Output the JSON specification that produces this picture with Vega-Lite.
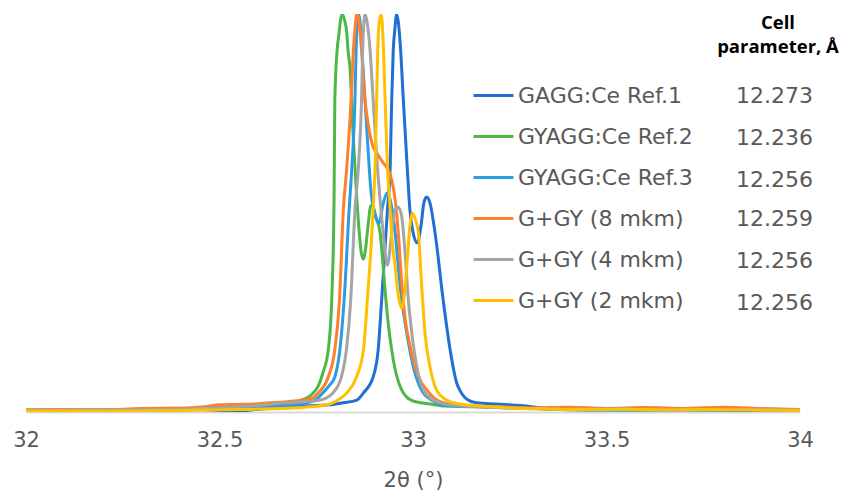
{
  "$schema": "https://vega.github.io/schema/vega-lite/v6.json",
  "width": 774,
  "height": 398,
  "autosize": {"type": "none"},
  "padding": {"left": 26, "top": 14, "right": 46, "bottom": 86},
  "background": "white",
  "config": {"view": {"stroke": null}, "font": "DejaVu Sans"},
  "title": {
    "text": ["Cell", "parameter, Å"],
    "anchor": "end",
    "frame": "group",
    "orient": "top",
    "align": "center",
    "baseline": "alphabetic",
    "offset": 0,
    "dx": -22,
    "dy": 57,
    "fontSize": 18.5,
    "fontWeight": "bold",
    "color": "#000000",
    "font": "Open Sans",
    "lineHeight": 24
  },
  "datasets": {
    "params": [
      {"pkey": "1|12.273", "param": 12.273},
      {"pkey": "2|12.236", "param": 12.236},
      {"pkey": "3|12.256", "param": 12.256},
      {"pkey": "4|12.259", "param": 12.259},
      {"pkey": "5|12.256", "param": 12.256},
      {"pkey": "6|12.256", "param": 12.256}
    ],
    "scans": [
      {"s":"GAGG:Ce Ref.1","x":32.000,"y":0.4},{"s":"GAGG:Ce Ref.1","x":32.100,"y":0.5},{"s":"GAGG:Ce Ref.1","x":32.191,"y":0.4},{"s":"GAGG:Ce Ref.1","x":32.300,"y":0.6},{"s":"GAGG:Ce Ref.1","x":32.400,"y":0.5},{"s":"GAGG:Ce Ref.1","x":32.450,"y":0.6},{"s":"GAGG:Ce Ref.1","x":32.500,"y":0.4},{"s":"GAGG:Ce Ref.1","x":32.545,"y":0.1},{"s":"GAGG:Ce Ref.1","x":32.580,"y":0.5},{"s":"GAGG:Ce Ref.1","x":32.605,"y":0.7},{"s":"GAGG:Ce Ref.1","x":32.650,"y":1.2},{"s":"GAGG:Ce Ref.1","x":32.708,"y":1.5},{"s":"GAGG:Ce Ref.1","x":32.785,"y":1.8},{"s":"GAGG:Ce Ref.1","x":32.819,"y":2.3},{"s":"GAGG:Ce Ref.1","x":32.855,"y":3.0},{"s":"GAGG:Ce Ref.1","x":32.872,"y":4.8},{"s":"GAGG:Ce Ref.1","x":32.897,"y":8.8},{"s":"GAGG:Ce Ref.1","x":32.910,"y":15.6},{"s":"GAGG:Ce Ref.1","x":32.919,"y":28.1},{"s":"GAGG:Ce Ref.1","x":32.934,"y":50.8},{"s":"GAGG:Ce Ref.1","x":32.941,"y":61.6},{"s":"GAGG:Ce Ref.1","x":32.945,"y":78.4},{"s":"GAGG:Ce Ref.1","x":32.949,"y":91.0},{"s":"GAGG:Ce Ref.1","x":32.953,"y":96.0},{"s":"GAGG:Ce Ref.1","x":32.958,"y":100},{"s":"GAGG:Ce Ref.1","x":32.963,"y":97.2},{"s":"GAGG:Ce Ref.1","x":32.968,"y":91.0},{"s":"GAGG:Ce Ref.1","x":32.975,"y":78.4},{"s":"GAGG:Ce Ref.1","x":32.985,"y":61.6},{"s":"GAGG:Ce Ref.1","x":32.992,"y":50.8},{"s":"GAGG:Ce Ref.1","x":33.000,"y":45.2},{"s":"GAGG:Ce Ref.1","x":33.011,"y":42.5},{"s":"GAGG:Ce Ref.1","x":33.021,"y":47.0},{"s":"GAGG:Ce Ref.1","x":33.028,"y":52.5},{"s":"GAGG:Ce Ref.1","x":33.035,"y":54.0},{"s":"GAGG:Ce Ref.1","x":33.044,"y":52.5},{"s":"GAGG:Ce Ref.1","x":33.057,"y":45.0},{"s":"GAGG:Ce Ref.1","x":33.078,"y":28.1},{"s":"GAGG:Ce Ref.1","x":33.096,"y":15.6},{"s":"GAGG:Ce Ref.1","x":33.113,"y":7.3},{"s":"GAGG:Ce Ref.1","x":33.121,"y":5.5},{"s":"GAGG:Ce Ref.1","x":33.142,"y":3.0},{"s":"GAGG:Ce Ref.1","x":33.165,"y":2.3},{"s":"GAGG:Ce Ref.1","x":33.215,"y":2.0},{"s":"GAGG:Ce Ref.1","x":33.302,"y":1.4},{"s":"GAGG:Ce Ref.1","x":33.354,"y":0.75},{"s":"GAGG:Ce Ref.1","x":33.450,"y":0.5},{"s":"GAGG:Ce Ref.1","x":33.550,"y":0.6},{"s":"GAGG:Ce Ref.1","x":33.650,"y":0.5},{"s":"GAGG:Ce Ref.1","x":33.750,"y":0.6},{"s":"GAGG:Ce Ref.1","x":33.850,"y":0.4},{"s":"GAGG:Ce Ref.1","x":33.950,"y":0.5},{"s":"GAGG:Ce Ref.1","x":34.000,"y":0.3},
      {"s":"GYAGG:Ce Ref.2","x":32.000,"y":0.5},{"s":"GYAGG:Ce Ref.2","x":32.100,"y":0.4},{"s":"GYAGG:Ce Ref.2","x":32.191,"y":0.5},{"s":"GYAGG:Ce Ref.2","x":32.320,"y":0.6},{"s":"GYAGG:Ce Ref.2","x":32.450,"y":0.9},{"s":"GYAGG:Ce Ref.2","x":32.500,"y":1.1},{"s":"GYAGG:Ce Ref.2","x":32.555,"y":1.3},{"s":"GYAGG:Ce Ref.2","x":32.630,"y":1.5},{"s":"GYAGG:Ce Ref.2","x":32.674,"y":2.0},{"s":"GYAGG:Ce Ref.2","x":32.708,"y":2.8},{"s":"GYAGG:Ce Ref.2","x":32.742,"y":4.8},{"s":"GYAGG:Ce Ref.2","x":32.755,"y":6.5},{"s":"GYAGG:Ce Ref.2","x":32.767,"y":9.8},{"s":"GYAGG:Ce Ref.2","x":32.781,"y":15.6},{"s":"GYAGG:Ce Ref.2","x":32.790,"y":28.1},{"s":"GYAGG:Ce Ref.2","x":32.796,"y":53.3},{"s":"GYAGG:Ce Ref.2","x":32.798,"y":78.4},{"s":"GYAGG:Ce Ref.2","x":32.804,"y":91.0},{"s":"GYAGG:Ce Ref.2","x":32.809,"y":95.2},{"s":"GYAGG:Ce Ref.2","x":32.812,"y":98.0},{"s":"GYAGG:Ce Ref.2","x":32.817,"y":100},{"s":"GYAGG:Ce Ref.2","x":32.823,"y":98.5},{"s":"GYAGG:Ce Ref.2","x":32.829,"y":95.2},{"s":"GYAGG:Ce Ref.2","x":32.832,"y":91.0},{"s":"GYAGG:Ce Ref.2","x":32.837,"y":86.7},{"s":"GYAGG:Ce Ref.2","x":32.845,"y":70.1},{"s":"GYAGG:Ce Ref.2","x":32.855,"y":53.3},{"s":"GYAGG:Ce Ref.2","x":32.861,"y":45.2},{"s":"GYAGG:Ce Ref.2","x":32.866,"y":40.2},{"s":"GYAGG:Ce Ref.2","x":32.872,"y":38.4},{"s":"GYAGG:Ce Ref.2","x":32.877,"y":40.7},{"s":"GYAGG:Ce Ref.2","x":32.884,"y":47.0},{"s":"GYAGG:Ce Ref.2","x":32.891,"y":51.8},{"s":"GYAGG:Ce Ref.2","x":32.897,"y":51.5},{"s":"GYAGG:Ce Ref.2","x":32.905,"y":48.7},{"s":"GYAGG:Ce Ref.2","x":32.915,"y":45.0},{"s":"GYAGG:Ce Ref.2","x":32.922,"y":37.7},{"s":"GYAGG:Ce Ref.2","x":32.930,"y":28.1},{"s":"GYAGG:Ce Ref.2","x":32.938,"y":20.6},{"s":"GYAGG:Ce Ref.2","x":32.945,"y":15.6},{"s":"GYAGG:Ce Ref.2","x":32.953,"y":11.1},{"s":"GYAGG:Ce Ref.2","x":32.961,"y":8.0},{"s":"GYAGG:Ce Ref.2","x":32.971,"y":5.5},{"s":"GYAGG:Ce Ref.2","x":32.983,"y":3.8},{"s":"GYAGG:Ce Ref.2","x":32.995,"y":3.0},{"s":"GYAGG:Ce Ref.2","x":33.010,"y":2.5},{"s":"GYAGG:Ce Ref.2","x":33.044,"y":2.0},{"s":"GYAGG:Ce Ref.2","x":33.083,"y":1.5},{"s":"GYAGG:Ce Ref.2","x":33.121,"y":1.4},{"s":"GYAGG:Ce Ref.2","x":33.173,"y":1.3},{"s":"GYAGG:Ce Ref.2","x":33.270,"y":1.0},{"s":"GYAGG:Ce Ref.2","x":33.370,"y":0.75},{"s":"GYAGG:Ce Ref.2","x":33.470,"y":0.6},{"s":"GYAGG:Ce Ref.2","x":33.570,"y":0.5},{"s":"GYAGG:Ce Ref.2","x":33.670,"y":0.6},{"s":"GYAGG:Ce Ref.2","x":33.770,"y":0.5},{"s":"GYAGG:Ce Ref.2","x":33.870,"y":0.6},{"s":"GYAGG:Ce Ref.2","x":34.000,"y":0.4},
      {"s":"GYAGG:Ce Ref.3","x":32.000,"y":0.4},{"s":"GYAGG:Ce Ref.3","x":32.191,"y":0.5},{"s":"GYAGG:Ce Ref.3","x":32.320,"y":0.6},{"s":"GYAGG:Ce Ref.3","x":32.450,"y":0.75},{"s":"GYAGG:Ce Ref.3","x":32.579,"y":1.1},{"s":"GYAGG:Ce Ref.3","x":32.656,"y":1.5},{"s":"GYAGG:Ce Ref.3","x":32.708,"y":2.0},{"s":"GYAGG:Ce Ref.3","x":32.734,"y":2.5},{"s":"GYAGG:Ce Ref.3","x":32.747,"y":3.0},{"s":"GYAGG:Ce Ref.3","x":32.767,"y":4.8},{"s":"GYAGG:Ce Ref.3","x":32.785,"y":6.8},{"s":"GYAGG:Ce Ref.3","x":32.798,"y":8.8},{"s":"GYAGG:Ce Ref.3","x":32.811,"y":15.6},{"s":"GYAGG:Ce Ref.3","x":32.822,"y":28.1},{"s":"GYAGG:Ce Ref.3","x":32.835,"y":50.8},{"s":"GYAGG:Ce Ref.3","x":32.842,"y":61.6},{"s":"GYAGG:Ce Ref.3","x":32.850,"y":78.4},{"s":"GYAGG:Ce Ref.3","x":32.853,"y":91.0},{"s":"GYAGG:Ce Ref.3","x":32.855,"y":96.0},{"s":"GYAGG:Ce Ref.3","x":32.859,"y":100},{"s":"GYAGG:Ce Ref.3","x":32.863,"y":98.2},{"s":"GYAGG:Ce Ref.3","x":32.868,"y":91.0},{"s":"GYAGG:Ce Ref.3","x":32.876,"y":78.4},{"s":"GYAGG:Ce Ref.3","x":32.884,"y":65.8},{"s":"GYAGG:Ce Ref.3","x":32.891,"y":55.8},{"s":"GYAGG:Ce Ref.3","x":32.902,"y":49.5},{"s":"GYAGG:Ce Ref.3","x":32.912,"y":47.5},{"s":"GYAGG:Ce Ref.3","x":32.922,"y":52.0},{"s":"GYAGG:Ce Ref.3","x":32.934,"y":55.0},{"s":"GYAGG:Ce Ref.3","x":32.945,"y":51.5},{"s":"GYAGG:Ce Ref.3","x":32.954,"y":45.0},{"s":"GYAGG:Ce Ref.3","x":32.962,"y":36.4},{"s":"GYAGG:Ce Ref.3","x":32.971,"y":28.1},{"s":"GYAGG:Ce Ref.3","x":32.984,"y":19.8},{"s":"GYAGG:Ce Ref.3","x":33.001,"y":11.3},{"s":"GYAGG:Ce Ref.3","x":33.022,"y":5.5},{"s":"GYAGG:Ce Ref.3","x":33.048,"y":3.0},{"s":"GYAGG:Ce Ref.3","x":33.070,"y":2.0},{"s":"GYAGG:Ce Ref.3","x":33.109,"y":1.5},{"s":"GYAGG:Ce Ref.3","x":33.173,"y":1.3},{"s":"GYAGG:Ce Ref.3","x":33.250,"y":1.0},{"s":"GYAGG:Ce Ref.3","x":33.350,"y":0.75},{"s":"GYAGG:Ce Ref.3","x":33.450,"y":0.6},{"s":"GYAGG:Ce Ref.3","x":33.550,"y":0.5},{"s":"GYAGG:Ce Ref.3","x":33.650,"y":0.6},{"s":"GYAGG:Ce Ref.3","x":33.750,"y":0.5},{"s":"GYAGG:Ce Ref.3","x":33.850,"y":0.6},{"s":"GYAGG:Ce Ref.3","x":34.000,"y":0.5},
      {"s":"G+GY (8 mkm)","x":32.000,"y":0.5},{"s":"G+GY (8 mkm)","x":32.100,"y":0.6},{"s":"G+GY (8 mkm)","x":32.191,"y":0.5},{"s":"G+GY (8 mkm)","x":32.300,"y":0.9},{"s":"G+GY (8 mkm)","x":32.416,"y":1.0},{"s":"G+GY (8 mkm)","x":32.460,"y":1.3},{"s":"G+GY (8 mkm)","x":32.501,"y":1.8},{"s":"G+GY (8 mkm)","x":32.545,"y":1.9},{"s":"G+GY (8 mkm)","x":32.587,"y":2.0},{"s":"G+GY (8 mkm)","x":32.630,"y":2.3},{"s":"G+GY (8 mkm)","x":32.674,"y":2.6},{"s":"G+GY (8 mkm)","x":32.715,"y":3.0},{"s":"G+GY (8 mkm)","x":32.740,"y":3.5},{"s":"G+GY (8 mkm)","x":32.755,"y":4.8},{"s":"G+GY (8 mkm)","x":32.781,"y":8.8},{"s":"G+GY (8 mkm)","x":32.798,"y":15.6},{"s":"G+GY (8 mkm)","x":32.810,"y":28.1},{"s":"G+GY (8 mkm)","x":32.820,"y":50.8},{"s":"G+GY (8 mkm)","x":32.829,"y":61.6},{"s":"G+GY (8 mkm)","x":32.840,"y":78.4},{"s":"G+GY (8 mkm)","x":32.846,"y":91.0},{"s":"G+GY (8 mkm)","x":32.850,"y":96.0},{"s":"G+GY (8 mkm)","x":32.855,"y":100},{"s":"G+GY (8 mkm)","x":32.860,"y":98.5},{"s":"G+GY (8 mkm)","x":32.867,"y":91.0},{"s":"G+GY (8 mkm)","x":32.876,"y":78.4},{"s":"G+GY (8 mkm)","x":32.884,"y":72.4},{"s":"G+GY (8 mkm)","x":32.889,"y":69.6},{"s":"G+GY (8 mkm)","x":32.897,"y":66.6},{"s":"G+GY (8 mkm)","x":32.906,"y":65.1},{"s":"G+GY (8 mkm)","x":32.923,"y":62.6},{"s":"G+GY (8 mkm)","x":32.936,"y":60.8},{"s":"G+GY (8 mkm)","x":32.945,"y":58.3},{"s":"G+GY (8 mkm)","x":32.954,"y":53.3},{"s":"G+GY (8 mkm)","x":32.962,"y":45.0},{"s":"G+GY (8 mkm)","x":32.971,"y":32.4},{"s":"G+GY (8 mkm)","x":32.979,"y":23.9},{"s":"G+GY (8 mkm)","x":32.992,"y":16.8},{"s":"G+GY (8 mkm)","x":33.005,"y":11.3},{"s":"G+GY (8 mkm)","x":33.021,"y":7.5},{"s":"G+GY (8 mkm)","x":33.036,"y":5.5},{"s":"G+GY (8 mkm)","x":33.062,"y":3.0},{"s":"G+GY (8 mkm)","x":33.096,"y":2.0},{"s":"G+GY (8 mkm)","x":33.147,"y":1.5},{"s":"G+GY (8 mkm)","x":33.225,"y":1.3},{"s":"G+GY (8 mkm)","x":33.300,"y":1.0},{"s":"G+GY (8 mkm)","x":33.400,"y":1.2},{"s":"G+GY (8 mkm)","x":33.500,"y":0.9},{"s":"G+GY (8 mkm)","x":33.600,"y":1.1},{"s":"G+GY (8 mkm)","x":33.700,"y":0.9},{"s":"G+GY (8 mkm)","x":33.800,"y":1.2},{"s":"G+GY (8 mkm)","x":33.900,"y":0.9},{"s":"G+GY (8 mkm)","x":34.000,"y":0.6},
      {"s":"G+GY (4 mkm)","x":32.000,"y":0.4},{"s":"G+GY (4 mkm)","x":32.191,"y":0.5},{"s":"G+GY (4 mkm)","x":32.320,"y":0.6},{"s":"G+GY (4 mkm)","x":32.450,"y":0.9},{"s":"G+GY (4 mkm)","x":32.579,"y":1.5},{"s":"G+GY (4 mkm)","x":32.674,"y":2.3},{"s":"G+GY (4 mkm)","x":32.708,"y":2.5},{"s":"G+GY (4 mkm)","x":32.760,"y":3.0},{"s":"G+GY (4 mkm)","x":32.793,"y":4.8},{"s":"G+GY (4 mkm)","x":32.815,"y":8.8},{"s":"G+GY (4 mkm)","x":32.828,"y":15.6},{"s":"G+GY (4 mkm)","x":32.839,"y":28.1},{"s":"G+GY (4 mkm)","x":32.850,"y":50.8},{"s":"G+GY (4 mkm)","x":32.859,"y":61.6},{"s":"G+GY (4 mkm)","x":32.867,"y":78.4},{"s":"G+GY (4 mkm)","x":32.870,"y":91.0},{"s":"G+GY (4 mkm)","x":32.872,"y":96.0},{"s":"G+GY (4 mkm)","x":32.876,"y":100},{"s":"G+GY (4 mkm)","x":32.881,"y":98.2},{"s":"G+GY (4 mkm)","x":32.889,"y":91.0},{"s":"G+GY (4 mkm)","x":32.897,"y":78.4},{"s":"G+GY (4 mkm)","x":32.908,"y":61.6},{"s":"G+GY (4 mkm)","x":32.915,"y":53.3},{"s":"G+GY (4 mkm)","x":32.923,"y":45.0},{"s":"G+GY (4 mkm)","x":32.934,"y":36.9},{"s":"G+GY (4 mkm)","x":32.945,"y":45.0},{"s":"G+GY (4 mkm)","x":32.954,"y":50.8},{"s":"G+GY (4 mkm)","x":32.962,"y":51.5},{"s":"G+GY (4 mkm)","x":32.971,"y":49.0},{"s":"G+GY (4 mkm)","x":32.979,"y":40.7},{"s":"G+GY (4 mkm)","x":32.988,"y":28.1},{"s":"G+GY (4 mkm)","x":32.997,"y":19.8},{"s":"G+GY (4 mkm)","x":33.010,"y":11.3},{"s":"G+GY (4 mkm)","x":33.027,"y":5.5},{"s":"G+GY (4 mkm)","x":33.053,"y":3.0},{"s":"G+GY (4 mkm)","x":33.083,"y":2.0},{"s":"G+GY (4 mkm)","x":33.135,"y":1.5},{"s":"G+GY (4 mkm)","x":33.225,"y":1.1},{"s":"G+GY (4 mkm)","x":33.320,"y":0.9},{"s":"G+GY (4 mkm)","x":33.420,"y":0.7},{"s":"G+GY (4 mkm)","x":33.520,"y":0.8},{"s":"G+GY (4 mkm)","x":33.620,"y":0.6},{"s":"G+GY (4 mkm)","x":33.720,"y":0.7},{"s":"G+GY (4 mkm)","x":33.820,"y":0.6},{"s":"G+GY (4 mkm)","x":33.920,"y":0.7},{"s":"G+GY (4 mkm)","x":34.000,"y":0.5},
      {"s":"G+GY (2 mkm)","x":32.000,"y":0.25},{"s":"G+GY (2 mkm)","x":32.191,"y":0.25},{"s":"G+GY (2 mkm)","x":32.450,"y":0.5},{"s":"G+GY (2 mkm)","x":32.550,"y":0.6},{"s":"G+GY (2 mkm)","x":32.674,"y":0.93},{"s":"G+GY (2 mkm)","x":32.734,"y":1.3},{"s":"G+GY (2 mkm)","x":32.785,"y":2.0},{"s":"G+GY (2 mkm)","x":32.806,"y":3.0},{"s":"G+GY (2 mkm)","x":32.829,"y":4.8},{"s":"G+GY (2 mkm)","x":32.854,"y":8.8},{"s":"G+GY (2 mkm)","x":32.872,"y":15.6},{"s":"G+GY (2 mkm)","x":32.882,"y":28.1},{"s":"G+GY (2 mkm)","x":32.897,"y":50.8},{"s":"G+GY (2 mkm)","x":32.902,"y":61.6},{"s":"G+GY (2 mkm)","x":32.906,"y":78.4},{"s":"G+GY (2 mkm)","x":32.909,"y":91.0},{"s":"G+GY (2 mkm)","x":32.911,"y":96.0},{"s":"G+GY (2 mkm)","x":32.917,"y":100},{"s":"G+GY (2 mkm)","x":32.922,"y":95.2},{"s":"G+GY (2 mkm)","x":32.928,"y":78.4},{"s":"G+GY (2 mkm)","x":32.934,"y":61.6},{"s":"G+GY (2 mkm)","x":32.940,"y":52.3},{"s":"G+GY (2 mkm)","x":32.946,"y":43.2},{"s":"G+GY (2 mkm)","x":32.954,"y":36.4},{"s":"G+GY (2 mkm)","x":32.960,"y":30.7},{"s":"G+GY (2 mkm)","x":32.971,"y":26.1},{"s":"G+GY (2 mkm)","x":32.979,"y":30.7},{"s":"G+GY (2 mkm)","x":32.987,"y":40.7},{"s":"G+GY (2 mkm)","x":32.992,"y":46.7},{"s":"G+GY (2 mkm)","x":32.998,"y":50.0},{"s":"G+GY (2 mkm)","x":33.005,"y":48.7},{"s":"G+GY (2 mkm)","x":33.014,"y":45.0},{"s":"G+GY (2 mkm)","x":33.022,"y":32.4},{"s":"G+GY (2 mkm)","x":33.031,"y":19.8},{"s":"G+GY (2 mkm)","x":33.044,"y":11.3},{"s":"G+GY (2 mkm)","x":33.061,"y":5.5},{"s":"G+GY (2 mkm)","x":33.087,"y":3.0},{"s":"G+GY (2 mkm)","x":33.121,"y":2.0},{"s":"G+GY (2 mkm)","x":33.173,"y":1.5},{"s":"G+GY (2 mkm)","x":33.250,"y":1.0},{"s":"G+GY (2 mkm)","x":33.350,"y":0.75},{"s":"G+GY (2 mkm)","x":33.450,"y":0.6},{"s":"G+GY (2 mkm)","x":33.550,"y":0.7},{"s":"G+GY (2 mkm)","x":33.650,"y":0.5},{"s":"G+GY (2 mkm)","x":33.750,"y":0.6},{"s":"G+GY (2 mkm)","x":33.850,"y":0.5},{"s":"G+GY (2 mkm)","x":34.000,"y":0.4}
    ]
  },
  "layer": [
    {
      "data": {"name": "scans"},
      "mark": {"type": "line", "interpolate": "monotone", "strokeWidth": 3, "clip": true},
      "encoding": {
        "x": {
          "field": "x", "type": "quantitative",
          "scale": {"domain": [32, 34], "nice": false, "zero": false},
          "axis": {
            "title": "2θ (°)",
            "values": [32, 32.5, 33, 33.5, 34],
            "format": "~g",
            "grid": false, "ticks": false,
            "domainColor": "#D9D9D9", "domainWidth": 2,
            "labelFontSize": 21, "labelColor": "#595959", "labelPadding": 17,
            "labelFont": "DejaVu Sans", "labelFlush": false,
            "titleFontSize": 21, "titleFontWeight": "normal", "titleColor": "#595959",
            "titleFont": "DejaVu Sans", "titlePadding": 19
          }
        },
        "y": {
          "field": "y", "type": "quantitative",
          "scale": {"domain": [0, 100], "nice": false},
          "axis": null
        },
        "color": {
          "field": "s", "type": "nominal",
          "scale": {
            "domain": ["GAGG:Ce Ref.1", "GYAGG:Ce Ref.2", "GYAGG:Ce Ref.3", "G+GY (8 mkm)", "G+GY (4 mkm)", "G+GY (2 mkm)"],
            "range": ["#1F6FD4", "#4DB848", "#2A9DE2", "#FF7F2A", "#A5A5A5", "#FFC000"]
          },
          "legend": {
            "title": null,
            "orient": "none",
            "legendX": 446,
            "legendY": 60,
            "padding": 0,
            "symbolType": "stroke",
            "symbolSize": 1600,
            "symbolStrokeWidth": 3,
            "labelFontSize": 22,
            "labelFont": "DejaVu Sans",
            "labelColor": "#595959",
            "labelOffset": 3,
            "labelLimit": 300,
            "rowPadding": 8
          }
        }
      }
    },
    {
      "data": {"name": "params"},
      "mark": {"type": "point", "opacity": 0},
      "encoding": {
        "shape": {
          "field": "pkey", "type": "nominal",
          "legend": {
            "title": null,
            "orient": "none",
            "legendX": 662,
            "legendY": 60,
            "padding": 0,
            "symbolType": "stroke",
            "symbolSize": 1600,
            "symbolStrokeWidth": 3,
            "symbolOpacity": 0,
            "labelFontSize": 22,
            "labelFont": "DejaVu Sans",
            "labelColor": "#595959",
            "labelOffset": 5,
            "labelExpr": "split(datum.label, '|')[1]",
            "rowPadding": 0
          }
        }
      }
    }
  ]
}
